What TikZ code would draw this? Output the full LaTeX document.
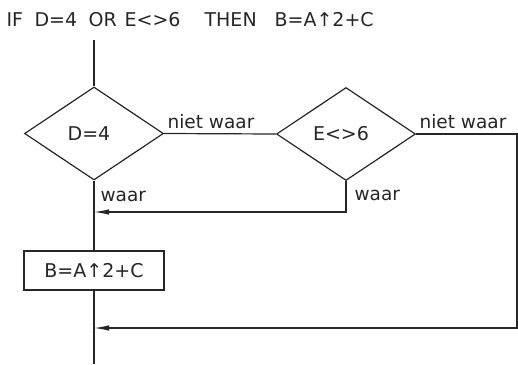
\documentclass[tikz,border=0pt]{standalone}
\usepackage{fontspec}
\setmainfont{DejaVu Sans}
\usetikzlibrary{shapes.geometric,arrows.meta}
\begin{document}
\begin{tikzpicture}[x=1pt,y=-1pt,
  line width=1.2pt, draw=black!85, text=black!85,
  txt/.style={font=\fontsize{19}{23}\selectfont},
  dec/.style={diamond, draw, minimum width=139pt, minimum height=93pt, inner sep=0pt, aspect=1.5, txt},
  stepbox/.style={rectangle, draw, minimum width=140pt, minimum height=39pt, inner sep=0pt, txt},
  lbl/.style={font=\fontsize{18.5}{22}\selectfont, inner sep=0pt, anchor=base west},
  arr/.style={-{Latex[length=15pt,width=5.5pt]}}
]
\useasboundingbox (0,0) rectangle (518,364);
\node[txt, anchor=base west, inner sep=0pt] (title) at (6,26)
  {\makebox[28pt][l]{IF}\makebox[54pt][l]{D=4}\makebox[36pt][l]{OR}\makebox[80pt][l]{E<>6}\makebox[70pt][l]{THEN}B=A↑2+C};
\coordinate (top) at (94,40);
\node[dec] (d1) at (94,133.5) {D=4\hspace*{10pt}};
\node[dec] (d2) at (346,134) {E<>6\hspace*{10pt}};
\node[stepbox] (b) at (94,270.5) {B=A↑2+C};
\coordinate (bot) at (94,364);
\coordinate (r1) at (517,134);
\coordinate (j1) at (94,212);
\coordinate (j2) at (94,328);
\draw (top) -- (d1.north);
\draw (d1.south) -- (b.north);
\draw (b.south) -- (bot);
\draw (d1.east) -- (d2.west);
\draw[arr] (d2.south) |- (j1);
\draw[arr] (d2.east) -- (r1) |- (j2);
\node[lbl] (n1) at (167,128) {niet waar};
\node[lbl] (n2) at (419,128) {niet waar};
\node[lbl] (w1) at (100,201) {waar};
\node[lbl] (w2) at (354,200) {waar};
\end{tikzpicture}
\end{document}
